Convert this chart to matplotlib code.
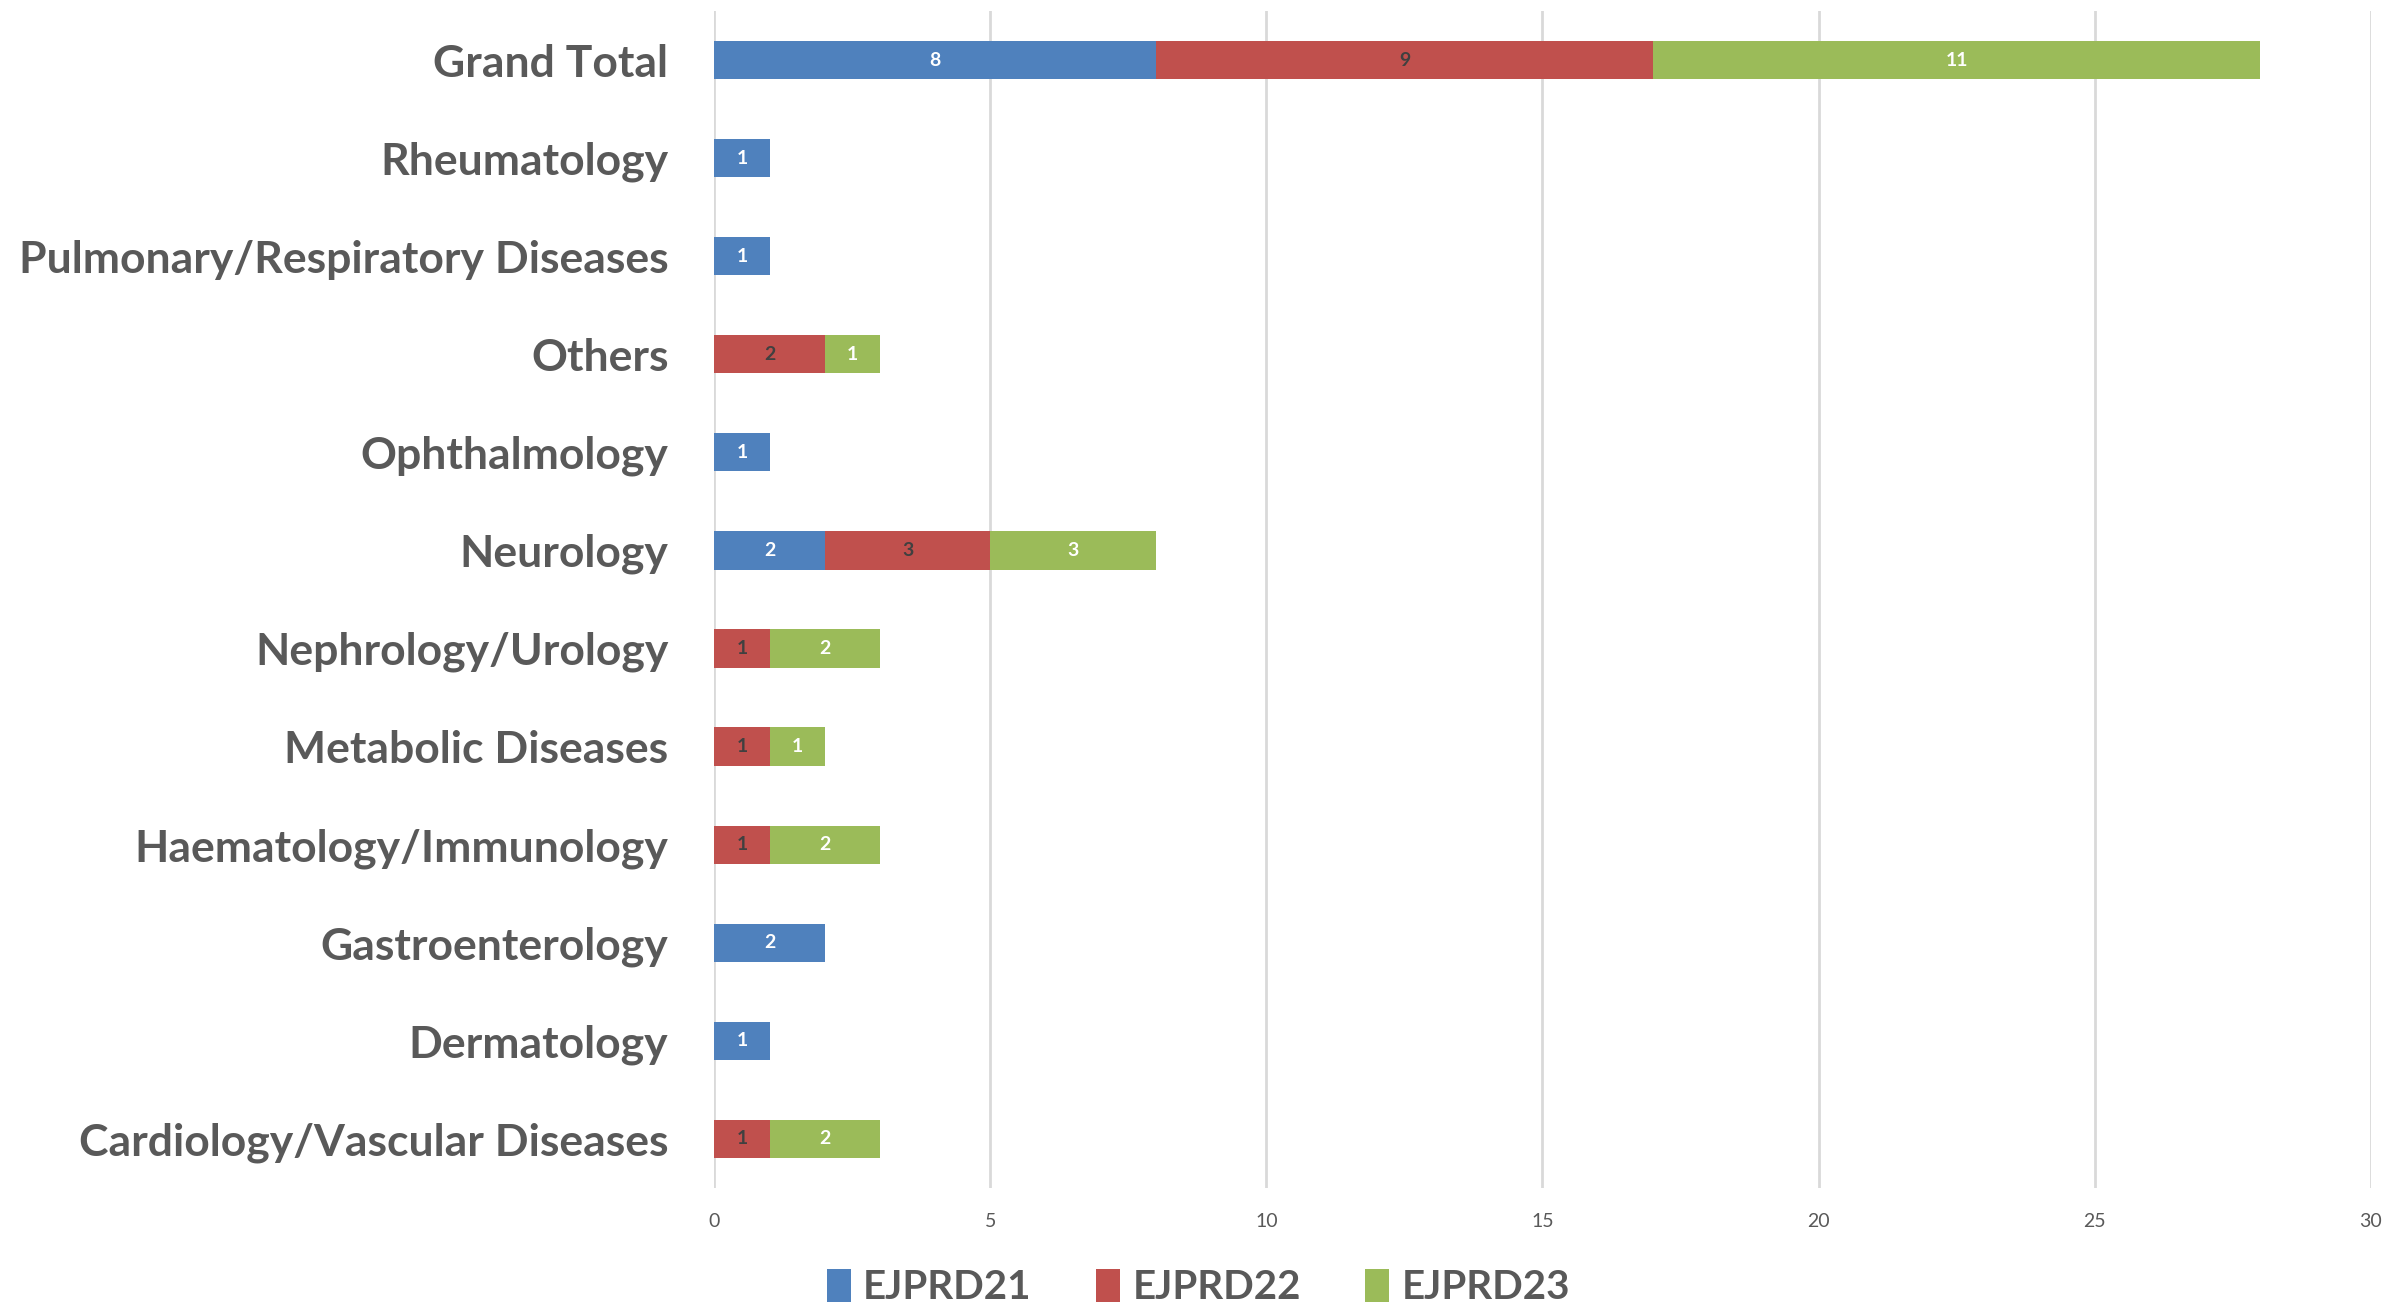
import matplotlib
matplotlib.use('Agg')
import matplotlib.pyplot as plt
import numpy as np

# categories bottom to top, as in the chart
categories = ['Cardiology/Vascular Diseases', 'Dermatology', 'Gastroenterology',
              'Haematology/Immunology', 'Metabolic Diseases', 'Nephrology/Urology',
              'Neurology', 'Ophthalmology', 'Others', 'Pulmonary/Respiratory Diseases',
              'Rheumatology', 'Grand Total']
ejprd21 = [0, 1, 2, 0, 0, 0, 2, 1, 0, 1, 1, 8]
ejprd22 = [1, 0, 0, 1, 1, 1, 3, 0, 2, 0, 0, 9]
ejprd23 = [2, 0, 0, 2, 1, 2, 3, 0, 1, 0, 0, 11]
series_names = ['EJPRD21', 'EJPRD22', 'EJPRD23']
x_ticks = [0, 5, 10, 15, 20, 25, 30]


def main():
	plt.rcParams['font.family'] = ['Lato', 'DejaVu Sans']
	fig = plt.figure(figsize=(23.97, 13.06), dpi=100)
	ax = fig.add_axes([0.298, 0.0904, 0.691, 0.9012])

	colors = ['#4F81BD', '#C0504D', '#9BBB59']
	label_colors = ['white', '#404040', 'white']
	y = np.arange(len(categories))
	left = np.zeros(len(categories))
	handles = []
	for vals, name, col, lcol in zip([ejprd21, ejprd22, ejprd23], series_names, colors, label_colors):
		vals = np.array(vals, dtype=float)
		bars = ax.barh(y, vals, left=left, height=0.39, color=col, label=name, zorder=3)
		handles.append(bars)
		for yi, v, l in zip(y, vals, left):
			if v > 0:
				ax.text(l + v / 2, yi, '{:d}'.format(int(v)), ha='center', va='center',
						color=lcol, fontsize=14, fontweight='bold', zorder=4)
		left += vals

	ax.set_xlim(0, 30)
	ax.set_ylim(-0.5, len(categories) - 0.5)
	ax.set_xticks(x_ticks)
	ax.set_yticks(y)
	ax.set_yticklabels(categories, fontsize=32, fontweight='bold', color='#595959')
	ax.tick_params(axis='x', labelsize=14, colors='#595959', length=0, pad=18)
	ax.tick_params(axis='y', length=0, pad=33)
	ax.grid(axis='x', color='#D9D9D9', linewidth=2, zorder=0)
	for s in ax.spines.values():
		s.set_visible(False)

	fig.legend(handles=handles, loc='lower center', bbox_to_anchor=(0.5, -0.028), ncol=3,
			   frameon=False, prop={'size': 29, 'weight': 'bold'}, handlelength=0.6,
			   handleheight=0.9, columnspacing=1.6, handletextpad=0.3, labelcolor='#595959')

	fig.savefig('out.png', dpi=100)


if __name__ == "__main__":
	main()
